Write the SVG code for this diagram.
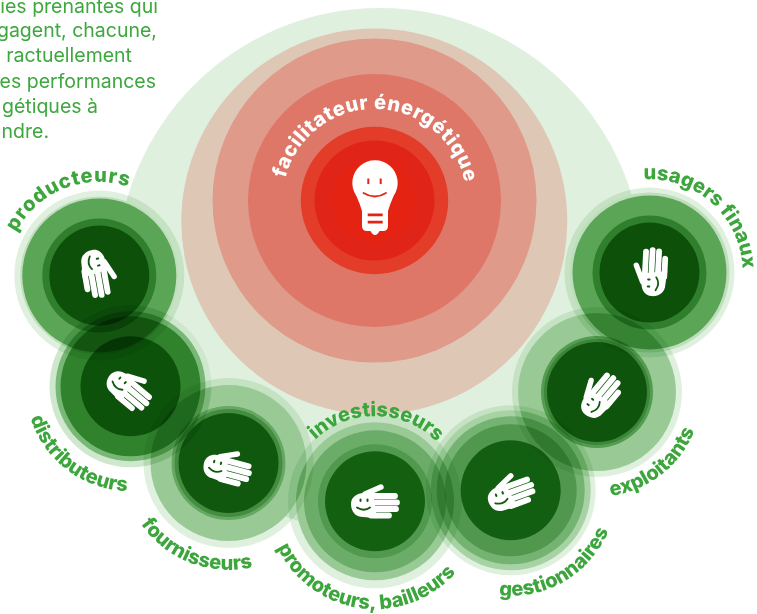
<svg xmlns="http://www.w3.org/2000/svg" xmlns:xlink="http://www.w3.org/1999/xlink" width="757" height="614" viewBox="0 0 757 614">
<style>
.g{fill:#3ca037;mix-blend-mode:multiply}
.r{fill:#fa2314;mix-blend-mode:multiply}
.para{font:400 19.500px Inter,"Liberation Sans",sans-serif;fill:#3ea83f;text-anchor:end}
.lab{font:800 20px Inter,"Liberation Sans",sans-serif;fill:#3ca63c;text-anchor:middle}
.lab2{fill:#fff;letter-spacing:.6px}
.wide{letter-spacing:.9px}
.hs{stroke:#fff;stroke-linecap:round;fill:none}
.fc{stroke:#0f5a0b;fill:none;stroke-linecap:round}
</style>
<defs>
<mask id="holes" maskUnits="userSpaceOnUse" x="0" y="0" width="757" height="614">
<rect width="757" height="614" fill="#fff"/>
<circle cx="99.300" cy="275.500" r="79"/>
<circle cx="130.500" cy="386.300" r="81"/>
<circle cx="228.500" cy="463" r="78"/>
<circle cx="375" cy="501.300" r="79"/>
<circle cx="510.700" cy="490.300" r="80"/>
<circle cx="597" cy="392" r="79"/>
<circle cx="649.500" cy="272.500" r="80"/>
</mask>
<g id="hand">
<path fill="#fff" d="M-24 3C-24-4-18-8-11-8L-2-8L2 17.200L-12 16C-20 16-24 10-24 3Z"/>
<path class="hs" stroke-width="5.400" d="M-10-7L6-14"/>
<path class="hs" stroke-width="5.800" d="M-4-5H20M-4 1.500H22M-4 8H21M-4 14.500H14"/>
<path class="fc" stroke-width="2" d="M-14.500-1.500v1.500M-7.500-1.500v1.500"/>
<path class="fc" stroke-width="1.800" d="M-18 6.500Q-11 11-5 6.500"/>
</g>
<path id="a1" d="M8 294.300A93 93 0 0 1 177.900 225.700"/>
<path id="a2" d="M36.900 338.300A105 105 0 0 0 202.100 462.800"/>
<path id="a3" d="M123.500 442.600A107 107 0 0 0 320.200 518.100"/>
<path id="a4" d="M267.100 495.300A108 108 0 0 0 480.200 525.300"/>
<path id="a5" d="M289.600 486.400A87 87 0 0 1 460.900 489.400"/>
<path id="a6" d="M430.100 558.800A106 106 0 0 0 610 452.900"/>
<path id="a7" d="M526.800 470A105 105 0 0 0 689.700 342.700"/>
<path id="a8" d="M592.200 199.200A93 93 0 0 1 728.400 321.800"/>
<path id="a9" d="M282.700 194.900A92 92 0 0 1 466.500 199.700"/>
</defs>
<g id="intro">
<text class="para" x="158" y="13">ies prenantes qui</text>
<text class="para" x="157" y="37">gagent, chacune,</text>
<text class="para" x="132" y="62">ractuellement</text>
<text class="para" x="156" y="88">es performances</text>
<text class="para" x="98" y="113">gétiques à</text>
<text class="para" x="49" y="138">ndre.</text>
</g>
<circle id="halo" class="g" cx="380" cy="271" r="263" opacity=".16" mask="url(#holes)"/>
<g id="connectors"/>
<g id="facilitateur">
<circle class="r" cx="374.300" cy="221.500" r="193" opacity=".2"/>
<circle class="r" cx="374.500" cy="200.500" r="162" opacity=".27"/>
<circle class="r" cx="374.500" cy="200.500" r="126.500" opacity=".27"/>
<circle fill="#e33d2a" cx="374.500" cy="200.500" r="73.700"/>
<circle fill="#e02418" cx="374.500" cy="200.500" r="60"/>
<circle cx="374.500" cy="200.500" r="42" fill="#e42313"/>
<path fill="#fff" d="M356.400 196A22.700 22.700 0 1 1 393.600 196Q390 204 388 211L388 226Q388 231 383 231L379.500 231Q377.500 235 375 235Q372.500 235 370.500 231L367 231Q362 231 362 226L362 211Q360 204 356.400 196Z"/>
<path fill="#e52313" d="M367.700 213.500h15v2.700h-15zM367.700 220.700h15v2.700h-15zM367.300 178.500h2v5.500h-2zM379.700 178.500h2v5.500h-2z"/>
<path fill="none" stroke="#e52313" stroke-width="1.800" stroke-linecap="round" d="M363.500 193Q375 200 386 193"/>
<text class="lab lab2"><textPath href="#a9" startOffset="50%">facilitateur énergétique</textPath></text>
</g>
<g id="producteurs">
<circle class="g" cx="99.300" cy="275.500" r="85" opacity=".16"/>
<circle class="g" cx="99.300" cy="275.500" r="79" opacity=".2"/>
<circle class="g" cx="99.300" cy="275.500" r="77" opacity=".69"/>
<circle class="g" cx="99.300" cy="275.500" r="57" opacity=".63"/>
<circle class="g" cx="99.300" cy="275.500" r="50" opacity="1"/>
<use href="#hand" transform="translate(99.300 273) rotate(80)"/>
<text class="lab wide"><textPath href="#a1" startOffset="50%">producteurs</textPath></text>
</g>
<g id="distributeurs">
<circle class="g" cx="130.500" cy="386.300" r="81" opacity=".25"/>
<circle class="g" cx="130.500" cy="386.300" r="75" opacity=".55"/>
<circle class="g" cx="130.500" cy="386.300" r="70" opacity=".8"/>
<circle class="g" cx="130.500" cy="386.300" r="50" opacity="1"/>
<use href="#hand" transform="translate(130.500 388) rotate(40)"/>
<text class="lab"><textPath href="#a2" startOffset="50%">distributeurs</textPath></text>
</g>
<g id="fournisseurs">
<circle class="g" cx="228.500" cy="463" r="85" opacity=".16"/>
<circle class="g" cx="228.500" cy="463" r="78" opacity=".42"/>
<circle class="g" cx="228.500" cy="463" r="57" opacity=".45"/>
<circle class="g" cx="228.500" cy="463" r="54" opacity=".45"/>
<circle class="g" cx="228.500" cy="463" r="50" opacity="1"/>
<use href="#hand" transform="translate(228 466) rotate(15)"/>
<text class="lab"><textPath href="#a3" startOffset="50%">fournisseurs</textPath></text>
</g>
<g id="promoteurs">
<circle class="g" cx="375" cy="501.300" r="87" opacity=".16"/>
<circle class="g" cx="375" cy="501.300" r="79" opacity=".42"/>
<circle class="g" cx="375" cy="501.300" r="71" opacity=".4"/>
<circle class="g" cx="375" cy="501.300" r="57" opacity=".33"/>
<circle class="g" cx="375" cy="501.300" r="50" opacity="1"/>
<use href="#hand" transform="translate(375 501)"/>
<text class="lab"><textPath href="#a4" startOffset="50%">promoteurs, bailleurs</textPath></text>
<text class="lab"><textPath href="#a5" startOffset="50%">investisseurs</textPath></text>
</g>
<g id="gestionnaires">
<circle class="g" cx="510.700" cy="490.300" r="85" opacity=".16"/>
<circle class="g" cx="510.700" cy="490.300" r="80" opacity=".34"/>
<circle class="g" cx="510.700" cy="490.300" r="74" opacity=".4"/>
<circle class="g" cx="510.700" cy="490.300" r="66" opacity=".4"/>
<circle class="g" cx="510.700" cy="490.300" r="50" opacity="1"/>
<use href="#hand" transform="translate(510 491) rotate(-20)"/>
<text class="lab"><textPath href="#a6" startOffset="50%">gestionnaires</textPath></text>
</g>
<g id="exploitants">
<circle class="g" cx="597" cy="392" r="85" opacity=".16"/>
<circle class="g" cx="597" cy="392" r="79" opacity=".42"/>
<circle class="g" cx="597" cy="392" r="56" opacity=".6"/>
<circle class="g" cx="597" cy="392" r="53" opacity=".4"/>
<circle class="g" cx="597" cy="392" r="50" opacity="1"/>
<use href="#hand" transform="translate(598 394) rotate(-50)"/>
<text class="lab"><textPath href="#a7" startOffset="50%">exploitants</textPath></text>
</g>
<g id="usagers">
<circle class="g" cx="649.500" cy="272.500" r="85" opacity=".16"/>
<circle class="g" cx="649.500" cy="272.500" r="80" opacity=".2"/>
<circle class="g" cx="649.500" cy="272.500" r="77" opacity=".69"/>
<circle class="g" cx="649.500" cy="272.500" r="57" opacity=".63"/>
<circle class="g" cx="649.500" cy="272.500" r="50" opacity="1"/>
<use href="#hand" transform="translate(650 272) rotate(-87)"/>
<text class="lab"><textPath href="#a8" startOffset="50%">usagers finaux</textPath></text>
</g>
</svg>
